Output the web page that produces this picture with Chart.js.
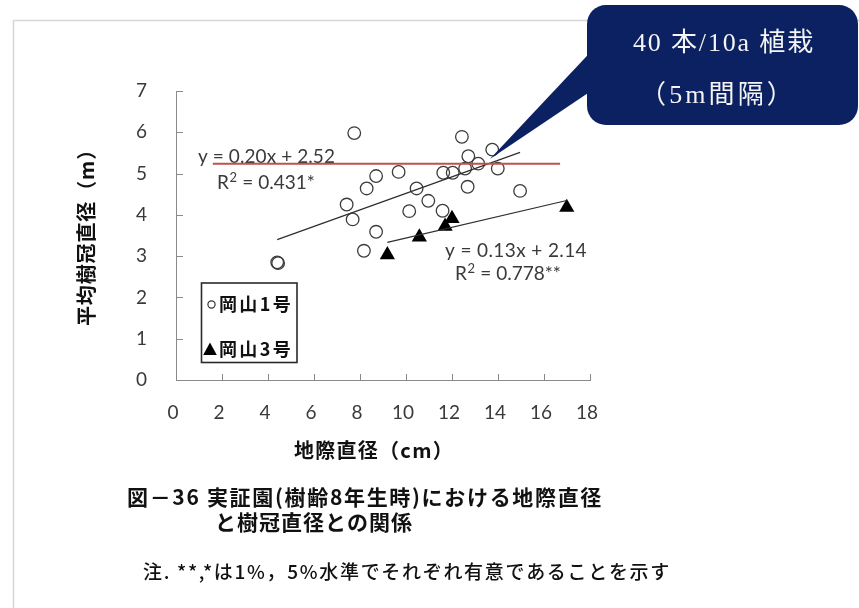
<!DOCTYPE html>
<html>
<head>
<meta charset="utf-8">
<script src="https://cdn.jsdelivr.net/npm/chart.js@4.4.1/dist/chart.umd.min.js"></script>
<style>
  html, body { margin: 0; padding: 0; background: #ffffff; }
  canvas { display: block; }
</style>
</head>
<body>
<canvas id="chart" width="859" height="608"></canvas>
<script>
// 岡山1号: 地際直径 (cm) / 平均樹冠直径 (m)
const okayama1Diameter = [4.40, 4.44, 7.75, 7.42, 7.68, 8.70, 8.17, 8.29, 8.70, 9.68, 10.14, 10.46,
                          10.97, 11.59, 11.62, 12.03, 12.43, 12.71, 12.57, 13.14, 12.68, 13.75, 13.99, 14.96];
const okayama1Crown    = [2.85, 2.83, 5.98, 4.25, 3.89, 3.59, 3.13, 4.64, 4.94, 5.04, 4.09, 4.64,
                          4.34, 4.10, 5.02, 5.02, 5.89, 5.42, 5.12, 5.24, 4.68, 5.58, 5.12, 4.58];

// 岡山3号
const okayama3Diameter = [9.19, 10.58, 11.70, 12.00, 16.99];
const okayama3Crown    = [3.03, 3.46, 3.72, 3.91, 4.18];

const seriesNames = ['岡山1号', '岡山3号'];

// 回帰直線 (y = a x + b) とその描画範囲
const trendSlope     = [0.20, 0.13];
const trendIntercept = [2.52, 2.14];
const trendFrom      = [4.40, 9.19];
const trendTo        = [14.96, 16.99];
const trendEquation  = ['y = 0.20x + 2.52', 'y = 0.13x + 2.14'];
const trendR2        = ['0.431*', '0.778**'];

// 赤の横線
const refLineY    = 5.24;
const refLineFrom = 1.6;
const refLineTo   = 16.7;

// 軸目盛
const xTickValues = [0, 2, 4, 6, 8, 10, 12, 14, 16, 18];
const yTickValues = [0, 1, 2, 3, 4, 5, 6, 7];
const xTitle = '地際直径（cm）';
const yTitle = '平均樹冠直径（m）';

// 吹き出し
const calloutLines  = ['40 本/10a 植栽', '（5m間隔）'];
const calloutTarget = [13.65, 5.35];

// 図題と注
const captionLines = ['図－36 実証園(樹齢8年生時)における地際直径', 'と樹冠直径との関係'];
const noteText = '注. **,*は1%，5%水準でそれぞれ有意であることを示す';

const TEXT = '#3a3a3a';
const AXIS = '#8a8a8a';
const LATIN = 'Lato, "Liberation Sans", sans-serif';
const CJK = '"Noto Sans CJK JP", "Noto Sans", sans-serif';

function pairs(xs, ys) { return xs.map((x, i) => ({ x: x, y: ys[i] })); }
function trendPoints(i) {
  return [trendFrom[i], trendTo[i]].map(x => ({ x: x, y: trendSlope[i] * x + trendIntercept[i] }));
}

// 指定幅に収まるよう字間を調整して描く
function fitText(ctx, text, x, y, width) {
  ctx.letterSpacing = '0px';
  const w = ctx.measureText(text).width;
  const n = Array.from(text).length;
  ctx.letterSpacing = ((width - w) / n) + 'px';
  ctx.textAlign = 'left';
  ctx.fillText(text, x, y);
  ctx.letterSpacing = '0px';
}

// 「R² = …」を上付き文字で描く
function drawR2(ctx, x, y, value) {
  ctx.textAlign = 'left';
  ctx.textBaseline = 'middle';
  ctx.font = '19px ' + LATIN;
  ctx.fillText('R', x, y);
  let cx = x + ctx.measureText('R').width;
  ctx.font = '13px ' + LATIN;
  ctx.fillText('2', cx + 0.5, y - 5);
  cx += ctx.measureText('2').width + 1;
  ctx.font = '19px ' + LATIN;
  ctx.fillText(' = ' + value, cx, y);
}

const decorations = {
  id: 'decorations',
  beforeDraw(chart) {
    const ctx = chart.ctx;
    ctx.save();
    ctx.fillStyle = '#ffffff';
    ctx.fillRect(0, 0, chart.width, chart.height);
    // 外枠
    ctx.strokeStyle = '#d6d6d6';
    ctx.lineWidth = 1.5;
    ctx.beginPath();
    ctx.moveTo(13.5, chart.height);
    ctx.lineTo(13.5, 20.5);
    ctx.lineTo(chart.width, 20.5);
    ctx.stroke();
    ctx.restore();
  },
  beforeDatasetsDraw(chart) {
    const ctx = chart.ctx;
    const xs = chart.scales.x, ys = chart.scales.y;
    ctx.save();
    // 内向きの目盛線
    ctx.strokeStyle = AXIS;
    ctx.lineWidth = 1;
    ctx.beginPath();
    yTickValues.forEach(v => {
      if (v === 0) return;
      const py = Math.round(ys.getPixelForValue(v)) + 0.5;
      ctx.moveTo(xs.left, py);
      ctx.lineTo(xs.left + 7, py);
    });
    xTickValues.forEach(v => {
      if (v === 0) return;
      const px = Math.round(xs.getPixelForValue(v)) + 0.5;
      ctx.moveTo(px, ys.bottom);
      ctx.lineTo(px, ys.bottom - 6);
    });
    ctx.stroke();

    // 回帰式
    ctx.fillStyle = TEXT;
    ctx.textBaseline = 'middle';
    ctx.font = '19px ' + LATIN;
    fitText(ctx, trendEquation[0], 198, 157, 137);
    drawR2(ctx, 217, 183, trendR2[0]);
    ctx.font = '19px ' + LATIN;
    fitText(ctx, trendEquation[1], 445, 251, 142);
    drawR2(ctx, 455, 274, trendR2[1]);
    ctx.restore();
  },
  afterDatasetsDraw(chart) {
    const ctx = chart.ctx;
    ctx.save();
    // 凡例
    ctx.strokeStyle = '#2a2a2a';
    ctx.lineWidth = 1.6;
    ctx.strokeRect(201.5, 283, 95.5, 79.5);
    ctx.lineWidth = 1.2;
    ctx.strokeStyle = '#333333';
    ctx.beginPath();
    ctx.arc(211.5, 304.5, 3.6, 0, Math.PI * 2);
    ctx.stroke();
    ctx.fillStyle = '#000000';
    ctx.beginPath();
    ctx.moveTo(210, 342.5);
    ctx.lineTo(216.8, 355);
    ctx.lineTo(203.2, 355);
    ctx.closePath();
    ctx.fill();
    ctx.fillStyle = '#111111';
    ctx.textBaseline = 'middle';
    ctx.font = 'bold 18px ' + CJK;
    fitText(ctx, chart.data.datasets[0].label, 219, 304.5, 74);
    fitText(ctx, chart.data.datasets[1].label, 219, 349.5, 74);
    ctx.restore();
  },
  afterDraw(chart) {
    const ctx = chart.ctx;
    const xs = chart.scales.x, ys = chart.scales.y;
    ctx.save();

    // 軸タイトル
    ctx.fillStyle = '#111111';
    ctx.textBaseline = 'middle';
    ctx.font = 'bold 20px ' + CJK;
    fitText(ctx, xTitle, 294, 450, 160);
    ctx.save();
    ctx.translate(86, 326);
    ctx.rotate(-Math.PI / 2);
    ctx.font = 'bold 20px ' + CJK;
    fitText(ctx, yTitle, 0, 0, 187);
    ctx.restore();

    // 図題と注
    ctx.fillStyle = '#111111';
    ctx.font = 'bold 21px ' + CJK;
    fitText(ctx, captionLines[0], 127, 497, 476);
    fitText(ctx, captionLines[1], 215, 522, 198);
    ctx.font = '500 19px ' + CJK;
    fitText(ctx, noteText, 143, 572, 528);

    // 吹き出し
    const tipX = xs.getPixelForValue(calloutTarget[0]);
    const tipY = ys.getPixelForValue(calloutTarget[1]);
    ctx.fillStyle = '#0b2161';
    ctx.beginPath();
    ctx.roundRect(587, 5, 271, 120, 19);
    ctx.fill();
    ctx.beginPath();
    ctx.moveTo(tipX, tipY);
    ctx.lineTo(600, 42);
    ctx.lineTo(600, 85);
    ctx.closePath();
    ctx.fill();
    ctx.fillStyle = '#f4f4f4';
    ctx.textBaseline = 'middle';
    ctx.font = '26px "Liberation Serif", "DejaVu Serif", ' + CJK;
    fitText(ctx, calloutLines[0], 633, 44, 182);
    fitText(ctx, calloutLines[1], 640, 96, 156);
    ctx.restore();
  }
};

const tickFont = { family: LATIN, size: 19, lineHeight: 1.2 };

new Chart(document.getElementById('chart'), {
  type: 'scatter',
  data: {
    datasets: [
      {
        label: seriesNames[0],
        data: pairs(okayama1Diameter, okayama1Crown),
        pointStyle: 'circle',
        pointRadius: 6.3,
        borderWidth: 1.3,
        borderColor: '#3c3c3c',
        backgroundColor: 'rgba(255,255,255,0)',
        order: 3
      },
      {
        label: seriesNames[1],
        data: pairs(okayama3Diameter, okayama3Crown),
        pointStyle: 'triangle',
        pointRadius: 8.8,
        borderWidth: 0,
        borderColor: '#000000',
        backgroundColor: '#000000',
        order: 3
      },
      {
        label: 'trend-1',
        type: 'line',
        data: trendPoints(0),
        borderColor: '#2e2e2e',
        borderWidth: 1.2,
        pointRadius: 0,
        order: 2
      },
      {
        label: 'trend-3',
        type: 'line',
        data: trendPoints(1),
        borderColor: '#2e2e2e',
        borderWidth: 1.2,
        pointRadius: 0,
        order: 2
      },
      {
        label: 'reference',
        type: 'line',
        data: [{ x: refLineFrom, y: refLineY }, { x: refLineTo, y: refLineY }],
        borderColor: '#c0504d',
        borderWidth: 2,
        pointRadius: 0,
        order: 1
      }
    ]
  },
  options: {
    responsive: false,
    animation: false,
    events: [],
    layout: { padding: { left: 0, right: 269, top: 91, bottom: 143 } },
    plugins: { legend: { display: false }, tooltip: { enabled: false } },
    scales: {
      x: {
        type: 'linear',
        min: 0,
        max: 18,
        afterBuildTicks: s => { s.ticks = xTickValues.map(v => ({ value: v })); },
        afterFit: s => { s.height = 85; },
        grid: { display: false, drawTicks: false },
        border: { display: true, color: AXIS, width: 1 },
        ticks: { font: tickFont, color: TEXT, padding: 21, labelOffset: -3, maxRotation: 0 },
        title: { display: false }
      },
      y: {
        type: 'linear',
        min: 0,
        max: 7,
        afterBuildTicks: s => { s.ticks = yTickValues.map(v => ({ value: v })); },
        afterFit: s => { s.width = 176; },
        grid: { display: false, drawTicks: false },
        border: { display: true, color: AXIS, width: 1 },
        ticks: { font: tickFont, color: TEXT, padding: 29 },
        title: { display: false }
      }
    }
  },
  plugins: [decorations]
});
</script>
</body>
</html>
